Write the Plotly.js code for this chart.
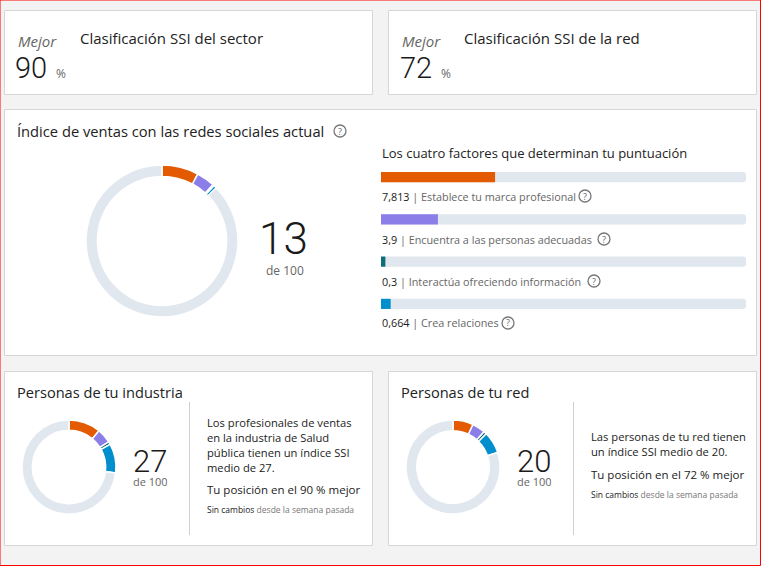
<!DOCTYPE html>
<html><head><meta charset="utf-8">
<script src="https://cdn.plot.ly/plotly-3.0.1.min.js"></script>
<style>html,body{margin:0;padding:0;background:#f3f3f3;}#chart{width:761px;height:566px;}</style>
</head><body><div id="chart"></div>
<script>
// ---- data ----
const factorNames = ['Establece tu marca profesional', 'Encuentra a las personas adecuadas', 'Interactúa ofreciendo información', 'Crea relaciones'];
const factorValues = [7.813, 3.9, 0.3, 0.664];
const factorLabels = ['7,813', '3,9', '0,3', '0,664'];
const factorMax = 25;
const factorColors = ['#e35a00', '#8b7ee8', '#0d6e78', '#008fcc'];
const mainScore = 13;
const scoreMax = 100;
const industryValues = [11, 5, 1, 10];
const industryScore = 27;
const networkValues = [7, 4.5, 1, 7.5];
const networkScore = 20;
const sectorRank = 90;
const networkRank = 72;
const industryName = 'Salud pública';

// ---- layout helpers ----
const W = 761, H = 566;
const px = x => x / W;
const py = y => 1 - y / H;
const FONT = 'Open Sans, Noto Sans, sans-serif';
const THIN = 'Roboto, Open Sans, sans-serif';
const track = '#e1e7ee';

function donut(values, cx, cy, r, hole) {
  const rest = scoreMax - values.reduce((a, b) => a + b, 0);
  return {
    type: 'pie', values: [...values, rest], labels: [...factorNames, 'resto'],
    marker: {colors: [...factorColors, track], line: {color: '#ffffff', width: 1.5}},
    hole: hole, sort: false, direction: 'clockwise', rotation: 0,
    textinfo: 'none', hoverinfo: 'none', showlegend: false,
    domain: {x: [px(cx - r), px(cx + r)], y: [py(cy + r), py(cy - r)]}
  };
}

const traces = [
  donut(factorValues, 162, 241, 76, 0.85),
  donut(industryValues, 69, 467, 47, 0.78),
  donut(networkValues, 453, 467, 47, 0.77),
  {type: 'bar', orientation: 'h', y: factorNames, x: factorNames.map(() => factorMax),
   marker: {color: track, cornerradius: 3}, width: 0.24, xaxis: 'x2', yaxis: 'y2', hoverinfo: 'none', showlegend: false},
  {type: 'bar', orientation: 'h', y: factorNames, x: factorValues,
   marker: {color: factorColors, cornerradius: 3}, width: 0.24, xaxis: 'x2', yaxis: 'y2', hoverinfo: 'none', showlegend: false}
];

const rect = (x0, y0, x1, y1) => ({type: 'rect', xref: 'paper', yref: 'paper', x0: px(x0), x1: px(x1), y0: py(y1), y1: py(y0),
  fillcolor: '#ffffff', line: {color: '#d6d6d6', width: 1}, layer: 'below'});
const vline = (x, y0, y1) => ({type: 'line', xref: 'paper', yref: 'paper', x0: px(x), x1: px(x), y0: py(y1), y1: py(y0),
  line: {color: '#d0d0d0', width: 1}});
const qcircle = (x, y) => ({type: 'circle', xref: 'paper', yref: 'paper', x0: px(x - 6), x1: px(x + 6), y0: py(y + 6), y1: py(y - 6),
  line: {color: '#777777', width: 1.3}});

const shapes = [
  {type: 'rect', xref: 'paper', yref: 'paper', x0: 0, x1: px(760.5), y0: py(565.5), y1: 1, fillcolor: '#f3f3f3', line: {color: '#ff0000', width: 1}, layer: 'below'},
  rect(4.5, 10.5, 372.5, 94.5), rect(388.5, 10.5, 756.5, 94.5), rect(4.5, 109.5, 756.5, 355.5),
  rect(4.5, 371.5, 372.5, 545.5), rect(388.5, 371.5, 756.5, 545.5),
  vline(189.5, 402, 535), vline(573.5, 402, 535),
  qcircle(340, 131), qcircle(585, 196), qcircle(604, 239), qcircle(594, 281), qcircle(508, 323)
];

const ann = (x, y, text, size, color, opts = {}) => Object.assign({
  xref: 'paper', yref: 'paper', x: px(x), y: py(y), text: text, showarrow: false,
  xanchor: 'left', yanchor: 'middle', font: {family: FONT, size: size, color: color}
}, opts);
const big = (x, y, text, size, h) => ann(x, y, text, size, '#1a1a1a', Object.assign({xanchor: 'center', font: {family: THIN, size: size, color: '#1a1a1a', weight: 300}},
  h ? {height: h, valign: 'middle', borderpad: 0} : {}));
const sub = (x, y, size) => ann(x, y, 'de ' + scoreMax, size, '#666666', {xanchor: 'center', height: Math.round(size * 1.15), valign: 'middle', borderpad: 0});

const annotations = [
  // top cards
  ann(16, 41, '<i>Mejor</i>', 15, '#666666'),
  big(31, 68, String(sectorRank), 29),
  ann(54, 73, '%', 12, '#666666'),
  ann(78, 38, 'Clasificación SSI del sector', 15, '#222222'),
  ann(400, 41, '<i>Mejor</i>', 15, '#666666'),
  big(416, 68, String(networkRank), 29),
  ann(439, 73, '%', 12, '#666666'),
  ann(462, 38, 'Clasificación SSI de la red', 15, '#222222'),
  // main card
  ann(15, 131, 'Índice de ventas con las redes sociales actual', 14.7, '#222222'),
  ann(340, 131, '?', 9, '#666666', {xanchor: 'center'}),
  big(283, 239, String(mainScore), 44, 38),
  sub(285, 270, 12),
  ann(380, 153, 'Los cuatro factores que determinan tu puntuación', 13, '#222222'),
  // bottom cards
  ann(15, 392, 'Personas de tu industria', 14.6, '#222222'),
  big(150, 461, String(industryScore), 31, 27),
  sub(150, 482, 11),
  ann(205, 422, 'Los profesionales de ventas', 11.2, '#222222'),
  ann(205, 437, 'en la industria de ' + industryName.split(' ')[0], 11.2, '#222222'),
  ann(205, 452, industryName.split(' ')[1] + ' tienen un índice SSI', 11.2, '#222222'),
  ann(205, 467, 'medio de ' + industryScore + '.', 11.2, '#222222'),
  ann(205, 489, 'Tu posición en el ' + sectorRank + ' % mejor', 11.5, '#222222'),
  ann(205, 509, '<span style="color:#222">Sin cambios</span> desde la semana pasada', 8.5, '#777777'),
  ann(399, 392, 'Personas de tu red', 14.6, '#222222'),
  big(534, 461, String(networkScore), 31, 27),
  sub(534, 482, 11),
  ann(589, 436, 'Las personas de tu red tienen', 11.2, '#222222'),
  ann(589, 451, 'un índice SSI medio de ' + networkScore + '.', 11.2, '#222222'),
  ann(589, 474, 'Tu posición en el ' + networkRank + ' % mejor', 11.5, '#222222'),
  ann(589, 494, '<span style="color:#222">Sin cambios</span> desde la semana pasada', 8.5, '#777777')
];
const labelY = [196, 239, 281, 323];
const iconX = [585, 604, 594, 508];
factorNames.forEach((n, i) => {
  annotations.push(ann(380, labelY[i], '<span style="color:#1a1a1a">' + factorLabels[i] + '</span> | ' + n, 10.8, '#666666'));
  annotations.push(ann(iconX[i], labelY[i], '?', 9, '#666666', {xanchor: 'center'}));
});

const layout = {
  width: W, height: H, margin: {l: 0, r: 0, t: 0, b: 0},
  paper_bgcolor: '#f3f3f3', plot_bgcolor: 'rgba(0,0,0,0)',
  font: {family: FONT},
  barmode: 'overlay',
  xaxis2: {domain: [px(381), px(746)], range: [0, factorMax], visible: false, fixedrange: true, anchor: 'y2'},
  yaxis2: {domain: [py(325), py(156)], range: [3.5, -0.5], visible: false, fixedrange: true, anchor: 'x2', type: 'category'},
  shapes: shapes, annotations: annotations
};
Plotly.newPlot('chart', traces, layout, {staticPlot: true, displayModeBar: false});
</script></body></html>
